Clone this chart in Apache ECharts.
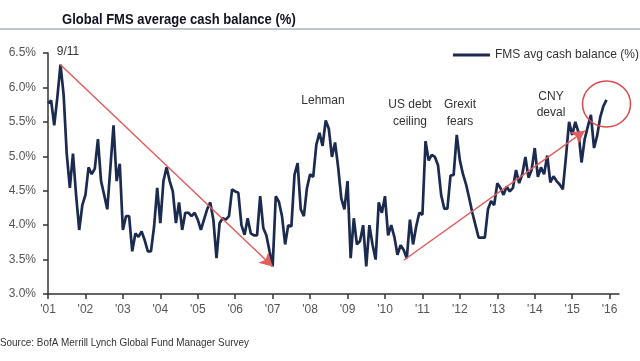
<!DOCTYPE html>
<html><head><meta charset="utf-8">
<script src="https://cdn.jsdelivr.net/npm/echarts@6/dist/echarts.min.js"></script>
<style>html,body{margin:0;padding:0;background:#fff}#c{width:640px;height:361px}</style>
</head><body><div id="c"></div>
<script>
// tick labels for the x axis (one per January)
var yearLabels = ["'01","'02","'03","'04","'05","'06","'07","'08","'09","'10","'11","'12","'13","'14","'15","'16"];
var extraMonths = 3; // axis runs a little past Jan '16
// y axis ticks
var yMin = 3.0, yMax = 6.5, yStep = 0.5;
// monthly FMS average cash balance (%), Jan 2001 onward
var cashBalance = [
5.77,5.81,5.45,5.86,6.33,5.90,5.04,4.54,5.04,4.44,3.93,4.29,
4.44,4.84,4.74,4.82,5.25,4.64,4.44,4.23,4.84,5.45,4.64,4.89,
3.93,4.13,4.13,3.62,3.88,3.83,3.91,3.78,3.62,3.62,3.98,4.54,
4.03,4.64,4.84,4.64,4.49,4.03,4.33,3.93,4.18,4.18,4.13,4.18,
4.08,3.93,4.08,4.23,4.33,4.08,3.52,4.03,4.10,4.08,4.13,4.52,
4.49,4.47,4.00,3.86,4.10,3.88,3.85,3.85,4.42,3.96,3.85,3.62,
3.40,4.42,4.34,4.13,3.72,4.00,3.98,4.73,4.90,4.23,4.13,4.54,
4.74,4.70,5.17,5.34,5.15,5.52,5.40,4.99,5.20,4.84,4.39,4.23,
4.64,3.52,4.10,3.72,3.77,4.00,3.40,4.00,3.72,3.50,4.33,4.18,
4.42,3.85,4.00,3.83,3.57,3.71,3.64,3.52,4.08,3.72,3.98,4.18,
4.15,5.22,4.94,5.02,4.99,4.87,4.44,4.24,4.24,4.72,4.73,5.31,
4.94,4.74,4.59,4.39,4.18,4.00,3.82,3.82,3.82,4.23,4.35,4.29,
4.61,4.54,4.44,4.56,4.49,4.54,4.80,4.61,4.74,4.99,4.69,4.80,
5.12,4.70,4.84,4.74,5.01,4.62,4.71,4.64,4.59,4.52,4.99,5.50,
5.31,5.50,5.35,4.91,5.25,5.43,5.60,5.12,5.30,5.57,5.73,5.82
];
// annotation arrows: [startIndex, startValue, endIndex, endValue]
var arrowDown = [4, 6.33, 72, 3.40];
var arrowUp = [114, 3.49, 172, 5.37];
var circleAt = [179, 5.76];

var months = [];
for (var i = 0; i < (yearLabels.length - 1) * 12 + 1 + extraMonths; i++) {
  var yi = Math.floor(i / 12);
  months.push(yi < yearLabels.length ? (i % 12 === 0 ? yearLabels[yi] : yearLabels[yi] + '-' + (i % 12 + 1)) : 'x' + i);
}

var chart = echarts.init(document.getElementById('c'), null, {renderer: 'canvas'});
var lbl = function (t, x, y, size) {
  return {type: 'text', x: x, y: y, style: {text: t, fill: '#333', font: (size || 12) + 'px "Liberation Sans", Arial, sans-serif', align: 'center', verticalAlign: 'middle'}};
};
chart.setOption({
  animation: false,
  grid: {left: 48, right: 21, top: 53, bottom: 67},
  legend: {
    right: -4, top: 44, icon: 'rect', itemWidth: 37, itemHeight: 3, itemGap: 5,
    textStyle: {fontSize: 12, color: '#333', fontFamily: '"Liberation Sans", Arial, sans-serif'},
    data: ['FMS avg cash balance (%)']
  },
  xAxis: {
    type: 'category', data: months, boundaryGap: false,
    axisLine: {lineStyle: {color: '#333', width: 1.5}},
    axisTick: {interval: function (i) { return i % 12 === 0 && i <= (yearLabels.length - 1) * 12; }, length: 5, lineStyle: {color: '#333', width: 1.5}},
    axisLabel: {
      interval: function (i) { return i % 12 === 0 && i <= (yearLabels.length - 1) * 12; },
      formatter: function (v, i) { return yearLabels[i / 12]; },
      color: '#555', fontSize: 12, margin: 10, fontFamily: '"Liberation Sans", Arial, sans-serif'
    },
    splitLine: {show: false}
  },
  yAxis: {
    type: 'value', min: yMin, max: yMax, interval: yStep,
    axisLine: {show: true, lineStyle: {color: '#333', width: 1.5}},
    axisTick: {show: true, length: 5, lineStyle: {color: '#333', width: 1.5}},
    axisLabel: {formatter: function (v) { return v.toFixed(1) + '%'; }, color: '#555', fontSize: 12, margin: 12, fontFamily: '"Liberation Sans", Arial, sans-serif'},
    splitLine: {show: false}
  },
  series: [{
    name: 'FMS avg cash balance (%)', type: 'line', data: cashBalance,
    symbol: 'none', color: '#1b2b50',
    lineStyle: {width: 2.7, color: '#1b2b50'},
    emphasis: {disabled: true},
    markLine: {
      silent: true, symbol: ['none', 'arrow'], symbolSize: [11, 13],
      label: {show: false},
      lineStyle: {color: '#e35d5d', width: 1.5, type: 'solid'},
      data: [
        [{coord: [arrowDown[0], arrowDown[1]]}, {coord: [arrowDown[2], arrowDown[3]]}],
        [{coord: [arrowUp[0], arrowUp[1]]}, {coord: [arrowUp[2], arrowUp[3]]}]
      ]
    },
    markPoint: {
      silent: true, symbol: 'circle', symbolSize: [48, 46],
      label: {show: false},
      itemStyle: {color: 'rgba(0,0,0,0)', borderColor: '#dd4c4c', borderWidth: 1.5},
      data: [{coord: circleAt}]
    }
  }],
  graphic: [
    {type: 'line', shape: {x1: 0, y1: 29, x2: 640, y2: 29}, style: {stroke: '#7f8e9e', lineWidth: 1}},
    {type: 'text', x: 62, y: 20, scaleX: 0.84, style: {text: 'Global FMS average cash balance (%)', fill: '#111122', font: 'bold 15.5px "Liberation Sans", Arial, sans-serif', verticalAlign: 'middle'}},
    {type: 'text', x: 0, y: 343, scaleX: 0.9, style: {text: 'Source: BofA Merrill Lynch Global Fund Manager Survey', fill: '#333', font: '11px "Liberation Sans", Arial, sans-serif', verticalAlign: 'middle'}},
    lbl('9/11', 68, 52), lbl('Lehman', 323, 101),
    lbl('US debt', 410, 105), lbl('ceiling', 410, 122),
    lbl('Grexit', 460, 105), lbl('fears', 460, 122),
    lbl('CNY', 551, 97), lbl('deval', 551, 113)
  ]
});
</script></body></html>
